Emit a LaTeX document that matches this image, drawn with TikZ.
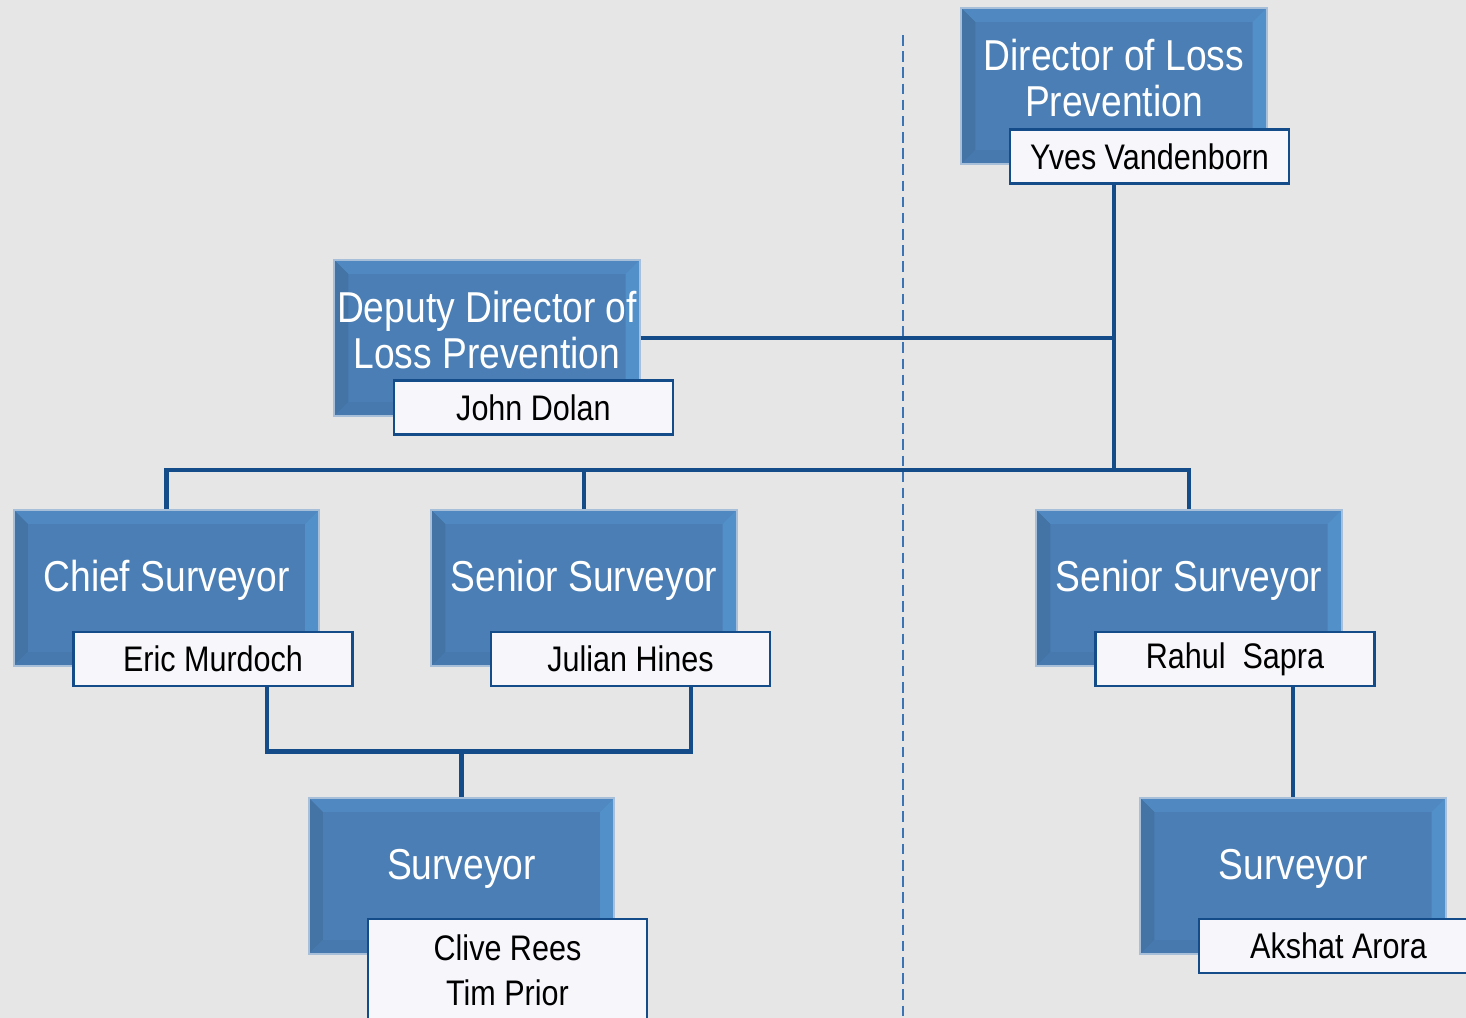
\documentclass[tikz,border=0pt]{standalone}
\usepackage{fontspec}
\setmainfont{Liberation Sans}[FakeStretch=0.86]
\definecolor{bg}{HTML}{E6E6E6}
\definecolor{boxface}{HTML}{4A7EB4}
\definecolor{boxrim}{HTML}{A7BFD8}
\definecolor{bevtop}{HTML}{5089C2}
\definecolor{bevright}{HTML}{5290CA}
\definecolor{bevleft}{HTML}{4474A6}
\definecolor{bevbot}{HTML}{4879AE}
\definecolor{namefill}{HTML}{F7F6FB}
\definecolor{linkblue}{HTML}{134C88}
\definecolor{dashblue}{HTML}{3A74B2}

\newcommand{\bev}{1.4mm}

\begin{document}
\begin{tikzpicture}[x=0.01cm,y=-0.01cm,
	titlebox/.style={draw=boxrim, line width=0.6pt, fill=boxface,
		minimum width=3.05cm, minimum height=1.56cm, inner sep=0pt,
		path picture={
			\def\pb{path picture bounding box}
			\fill[bevtop] (\pb.north west) -- (\pb.north east) -- ([xshift=-\bev,yshift=-\bev]\pb.north east) -- ([xshift=\bev,yshift=-\bev]\pb.north west) -- cycle;
			\fill[bevright] (\pb.north east) -- (\pb.south east) -- ([xshift=-\bev,yshift=\bev]\pb.south east) -- ([xshift=-\bev,yshift=-\bev]\pb.north east) -- cycle;
			\fill[bevleft] (\pb.north west) -- (\pb.south west) -- ([xshift=\bev,yshift=\bev]\pb.south west) -- ([xshift=\bev,yshift=-\bev]\pb.north west) -- cycle;
			\fill[bevbot] (\pb.south west) -- (\pb.south east) -- ([xshift=-\bev,yshift=\bev]\pb.south east) -- ([xshift=\bev,yshift=\bev]\pb.south west) -- cycle;
		}},
	titletext/.style={text=white, align=center, yshift=0.75mm,
		font=\fontsize{12.3}{13.1}\selectfont},
	namebox/.style={draw=linkblue, line width=0.75pt, fill=namefill,
		minimum width=2.79cm, minimum height=0.54cm, inner sep=0pt, align=center,
		font=\fontsize{10.1}{12.8}\selectfont},
	link/.style={draw=linkblue, line width=1.3pt}
	]

	\path[use as bounding box, clip] (0,0) rectangle (1466,1018);
	\fill[bg] (0,0) rectangle (1466,1018);

	% dashed divider
	\draw[dashblue, line width=0.5pt, dash pattern=on 3pt off 1.6pt] (903,35) -- (903,1018);

	% role boxes
	\node[titlebox, label={[titletext]center:{Director of Loss\\Prevention}}] (dirbox) at (1114,86) {};
	\node[titlebox, label={[titletext]center:{Deputy Director of\\Loss Prevention}}] (depbox) at (487,338) {};
	\node[titlebox, label={[titletext]center:Chief Surveyor}] (chiefbox) at (166.5,588) {};
	\node[titlebox, label={[titletext]center:Senior Surveyor}] (srbox) at (584,588) {};
	\node[titlebox, label={[titletext]center:Senior Surveyor}] (srboxb) at (1189,588) {};
	\node[titlebox, label={[titletext]center:Surveyor}] (survbox) at (461.5,876) {};
	\node[titlebox, label={[titletext]center:Surveyor}] (survboxb) at (1293,876) {};

	% names
	\node[namebox] (yves) at (1149.5,156.5) {Yves Vandenborn};
	\node[namebox] (dolan) at (533.5,407.5) {John Dolan};
	\node[namebox] (murdoch) at (213,659) {Eric Murdoch};
	\node[namebox] (hines) at (630.5,659) {Julian Hines};
	\node[namebox] (sapra) at (1235,659) {Rahul\ \ Sapra};
	\node[namebox, minimum height=1.03cm] (rees) at (507.5,970.5) {Clive Rees\\Tim Prior};
	\node[namebox] (arora) at (1338.5,946) {Akshat Arora};

	% reporting lines
	\coordinate (bus) at (0,470);
	\coordinate (drop) at (yves.south -| dirbox.south);
	\draw[link] (drop) -- (drop |- bus);
	\draw[link] (depbox.east) -- (depbox.east -| drop);
	\draw[link] (chiefbox.north) -- (chiefbox.north |- bus) -| (srboxb.north);
	\draw[link] (srbox.north) -- (srbox.north |- bus);

	\draw[link] ([xshift=5.4mm]murdoch.south) -- ++(0,64) -| ([xshift=6.05mm]hines.south);
	\draw[link] (survbox.north) -- ++(0,-48);
	\draw[link] (survboxb.north) -- (survboxb.north |- sapra.south);
\end{tikzpicture}
\end{document}
